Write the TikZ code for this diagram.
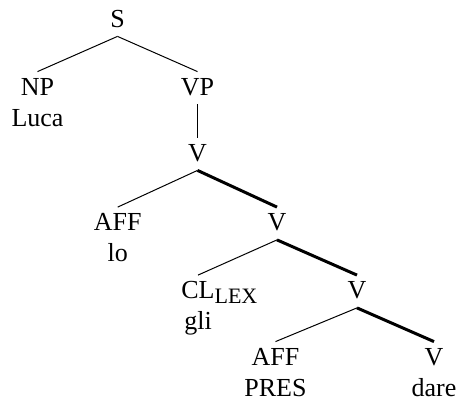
\documentclass[tikz,border=0pt]{standalone}
\usepackage{fontspec}
\setmainfont{Liberation Serif}
\tikzset{
  cat/.style={anchor=base, inner xsep=0pt, inner ysep=2.9pt, text height=8.6pt, text depth=1.6pt, font=\rmfamily\fontsize{13}{15.5}\selectfont},
  word/.style={cat},
  branch/.style={line width=0.5pt},
  head/.style={line width=1.5pt}
}
\newcommand{\lexsub}[1]{\rlap{\raisebox{-2.5pt}{\fontsize{11}{12}\selectfont #1}}}

\begin{document}
\begin{tikzpicture}[x=0.5pt, y=-0.5pt]
	\useasboundingbox (0,0) rectangle (461,407);
	
	% Draw the category labels, level by level
	\node[cat] (S) at (117.5,27) {S};
	\node[cat] (NP) at (37.5,95) {NP};
	\node[cat] (VP) at (197.5,95) {VP};
	\node[cat] (V1) at (197.5,161) {V};
	\node[cat] (AFF1) at (117.7,230.5) {AFF};
	\node[cat] (V2) at (277,230.5) {V};
	\node[cat] (CL) at (198,298.5) {CL\lexsub{LEX}};
	\node[cat] (V3) at (357,298.5) {V};
	\node[cat] (AFF2) at (275.5,365) {AFF};
	\node[cat] (V4) at (434,365) {V};
	
	% Draw the words under the labels
	\node[word] (Luca) at ([yshift=-15.5pt]NP.base) {Luca};
	\node[word] (lo) at ([yshift=-15.5pt]AFF1.base) {lo};
	\node[word] (gli) at ([yshift=-15.5pt]CL.base) {gli};
	\node[word] (PRES) at ([yshift=-15.5pt]AFF2.base) {PRES};
	\node[word] (dare) at ([yshift=-15.5pt]V4.base) {dare};
	
	% Draw the thin branches
	\draw[branch] (S.south) -- (NP.north);
	\draw[branch] (S.south) -- (VP.north);
	\draw[branch] (VP.south) -- (V1.north);
	\draw[branch] (V1.south) -- (AFF1.north);
	\draw[branch] (V2.south) -- (CL.north);
	\draw[branch] (V3.south) -- (AFF2.north);
	
	% Draw the thick head branches
	\draw[head] (V1.south) -- (V2.north);
	\draw[head] (V2.south) -- (V3.north);
	\draw[head] (V3.south) -- (V4.north);
\end{tikzpicture}
\end{document}
